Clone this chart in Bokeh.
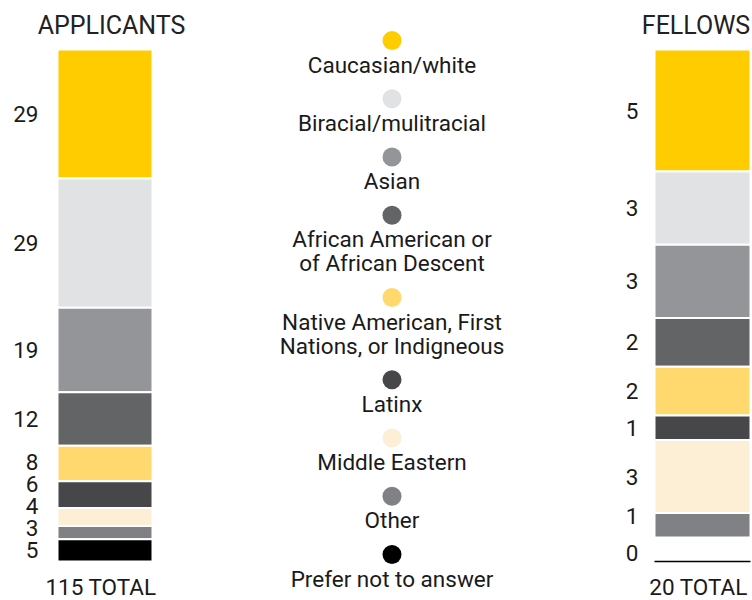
from bokeh.plotting import figure
from bokeh.models import Range1d, ColumnDataSource
from bokeh.embed import file_html
from bokeh.resources import INLINE
from bokeh.core.properties import value

# ---- data ----
categories = ["Caucasian/white", "Biracial/mulitracial", "Asian",
              "African American or\nof African Descent",
              "Native American, First\nNations, or Indigneous",
              "Latinx", "Middle Eastern", "Other", "Prefer not to answer"]
colors = ["#FFCC00", "#E1E2E4", "#939598", "#636466", "#FFD86E",
          "#47474A", "#FCEFD6", "#808184", "#000000"]
applicants = [29, 29, 19, 12, 8, 6, 4, 3, 5]
fellows = [5, 3, 3, 2, 2, 1, 3, 1, 0]
group_titles = ["APPLICANTS", "FELLOWS"]

FONT = value("Roboto")
W, H = 752, 600


def up(page_y):
    # pixels from figure bottom for a page y coordinate
    return H - page_y


# applicants scale
a_base, a_top = up(561), up(49)
a_scale = (a_top - a_base) / sum(applicants)
# fellows scale
f_base, f_top = up(537), up(49)
f_scale = (f_top - f_base) / sum(fellows)

p = figure(width=W, height=H, output_backend="svg", toolbar_location=None,
           x_range=Range1d(0, W),
           y_range=Range1d(-a_base / a_scale, (H - a_base) / a_scale),
           x_axis_type=None, y_axis_type=None, min_border=0)
p.extra_y_ranges = {"fel": Range1d(-f_base / f_scale, (H - f_base) / f_scale),
                    "px": Range1d(start=H, end=0)}
p.outline_line_color = None
p.background_fill_color = "white"
p.border_fill_color = "white"
p.min_border_left = p.min_border_right = p.min_border_top = p.min_border_bottom = 0


def stack(vals):
    n = len(vals)
    bottoms = [0] * n
    tops = [0] * n
    acc = 0
    for i in range(n - 1, -1, -1):
        bottoms[i] = acc
        acc += vals[i]
        tops[i] = acc
    return bottoms, tops


def label_positions(bottoms, tops, min_gap):
    ys = [0] * len(bottoms)
    prev = None
    for i in range(len(bottoms) - 1, -1, -1):
        c = (bottoms[i] + tops[i]) / 2
        if prev is not None and c < prev + min_gap:
            c = prev + min_gap
        ys[i] = c
        prev = c
    return ys


LBL = dict(text_font=FONT, text_font_size="22.5px", text_color="#1a1a1a",
           text_baseline="middle")

# applicants bar
ab, at = stack(applicants)
a_x, a_w = 104.5, 95
src_a = ColumnDataSource(dict(bottom=ab, top=at, color=colors))
p.vbar(x=a_x, width=a_w, bottom="bottom", top="top", fill_color="color",
       line_color="white", line_width=2, source=src_a)
a_ly = label_positions(ab, at, 22 / a_scale)
p.text(x=[38] * len(applicants), y=a_ly, text=[str(v) for v in applicants],
       text_align="right", **LBL)

# fellows bar
fb, ft = stack(fellows)
f_x, f_w = 702, 96
nz = [i for i, v in enumerate(fellows) if v > 0]
src_f = ColumnDataSource(dict(bottom=[fb[i] for i in nz], top=[ft[i] for i in nz],
                              color=[colors[i] for i in nz]))
p.vbar(x=f_x, width=f_w, bottom="bottom", top="top", fill_color="color",
       line_color="white", line_width=2, source=src_f, y_range_name="fel")
f_ly = label_positions(fb, ft, 22 / f_scale)
p.text(x=[638] * len(nz), y=[f_ly[i] for i in nz], text=[str(fellows[i]) for i in nz],
       text_align="right", y_range_name="fel", **LBL)
# zero-valued fellows categories: baseline rule on the shared zero line
zs = [i for i, v in enumerate(fellows) if v == 0]
for i in zs:
    p.segment(x0=f_x - f_w / 2, x1=f_x + f_w / 2, y0=0, y1=0,
              line_color=colors[i], line_width=1.5)
    p.text(x=[638], y=[9 / a_scale], text=[str(fellows[i])],
           text_align="right", **LBL)

# titles and totals (px range: y measured from page top)
p.text(x=[111, 695.5], y=[25, 25], text=group_titles,
       text_font=FONT, text_font_size="25px", text_color="#222222",
       text_align="center", text_baseline="middle", y_range_name="px")
p.text(x=[100.5, 698], y=[586, 586],
       text=[f"{sum(applicants)} TOTAL", f"{sum(fellows)} TOTAL"],
       text_align="center", y_range_name="px", **LBL)

# legend
lx = 391.5
first, last = 40, 554
line_h = 24
extra = sum(len(c.split("\n")) - 1 for c in categories[:-1])
step = (last - first - extra * line_h) / (len(categories) - 1)
cy, ty, tt = [], [], []
y = first
for c in categories:
    cy.append(y)
    lines = c.split("\n")
    for k, ln in enumerate(lines):
        ty.append(y + 24 + k * line_h)
        tt.append(ln)
    y += step + (len(lines) - 1) * line_h
p.scatter(x=[lx] * len(categories), y=cy, size=19, fill_color=colors,
          line_color=None, y_range_name="px")
p.text(x=[lx] * len(tt), y=ty, text=tt, text_align="center",
       y_range_name="px", **LBL)

open("out.html", "w").write(file_html(p, INLINE))
